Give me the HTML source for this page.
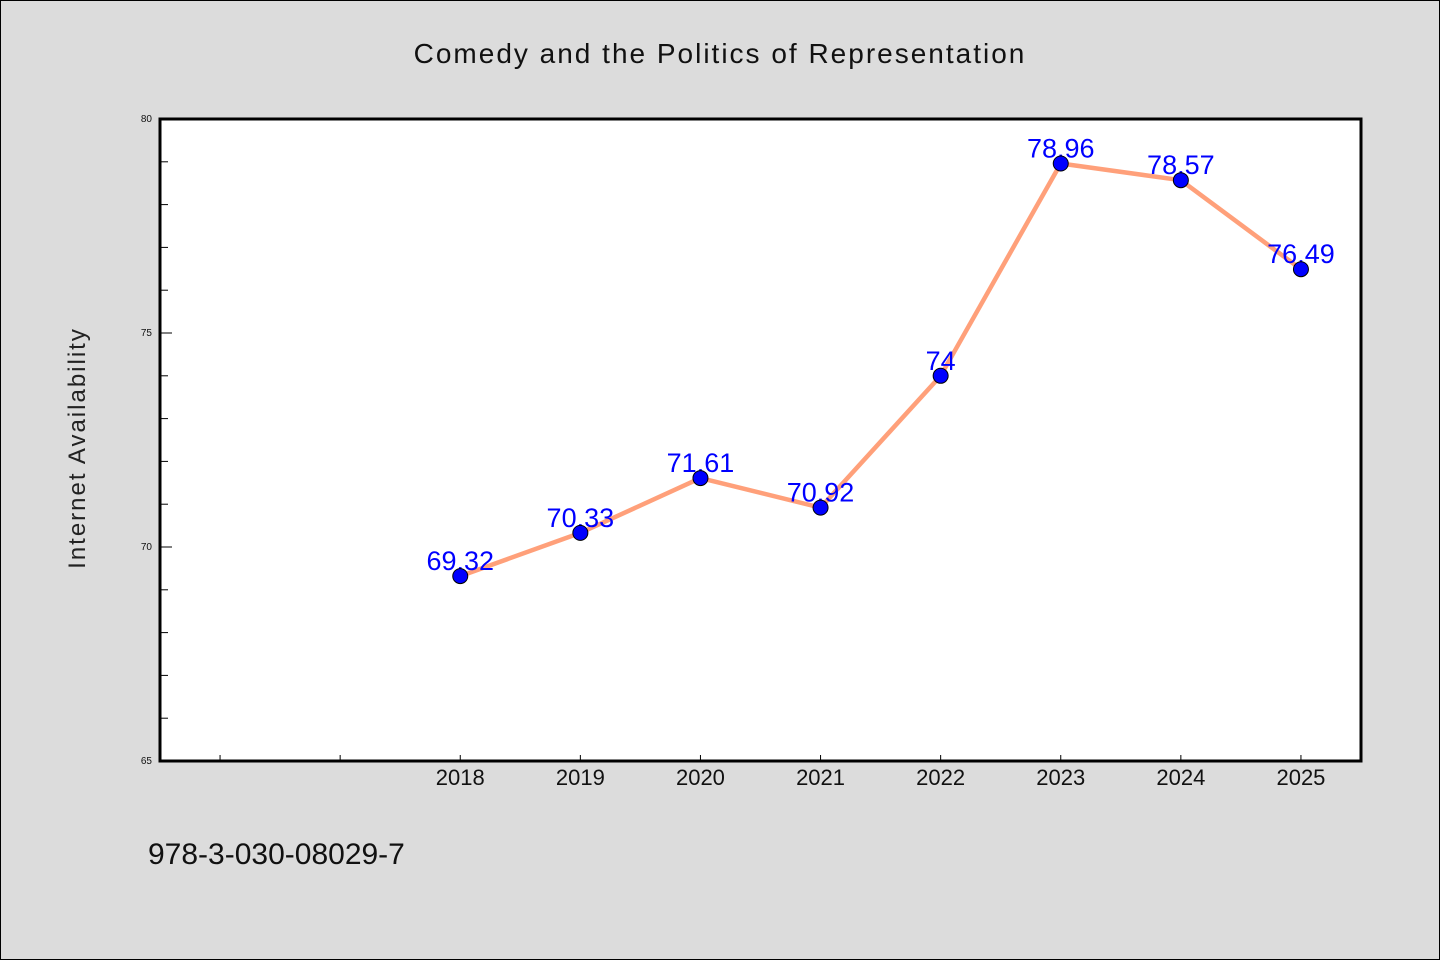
<!DOCTYPE html>
<html><head><meta charset="utf-8"><style>
body{margin:0;background:#dcdcdc;}
svg{display:block;font-family:"WenQuanYi Zen Hei","Liberation Sans",sans-serif;}
</style></head><body>
<svg id="chart" width="1440" height="960">
<rect x="0.5" y="0.5" width="1439" height="959" fill="#dcdcdc" stroke="#000"/>
<text x="720" y="63" text-anchor="middle" font-size="28" letter-spacing="2" fill="#111">Comedy and the Politics of Representation</text>
<rect x="160" y="119" width="1201" height="642" fill="#fff"/>
<g id="axes"></g>
<g id="marks"></g>
<rect x="160" y="119" width="1201" height="642" fill="none" stroke="#000" stroke-width="3"/>
<text transform="translate(85,448) rotate(-90)" text-anchor="middle" font-size="24" letter-spacing="2" fill="#222">Internet Availability</text>
<text x="148" y="864" font-size="30" fill="#111">978-3-030-08029-7</text>
</svg>
<script>
const years = [2018, 2019, 2020, 2021, 2022, 2023, 2024, 2025];
const values = [69.32, 70.33, 71.61, 70.92, 74, 78.96, 78.57, 76.49];
const valueLabels = ["69.32", "70.33", "71.61", "70.92", "74", "78.96", "78.57", "76.49"];
const yTicks = [65, 70, 75, 80];
const xTicks = [2016, 2017, 2018, 2019, 2020, 2021, 2022, 2023, 2024, 2025];
const ns = "http://www.w3.org/2000/svg";
const X0 = 160, X1 = 1361, Y0 = 761, Y1 = 119;
const xMin = 2015.5, xMax = 2025.5, yMin = 65, yMax = 80;
function sx(v){return X0 + (v - xMin) / (xMax - xMin) * (X1 - X0);}
function sy(v){return Y0 - (v - yMin) / (yMax - yMin) * (Y0 - Y1);}
function mk(tag, attrs, parent){const e=document.createElementNS(ns,tag);for(const k in attrs)e.setAttribute(k,attrs[k]);parent.appendChild(e);return e;}
const axes = document.getElementById('axes'), marks = document.getElementById('marks');
for (let v = yMin; v <= yMax; v++) {
  const major = yTicks.includes(v);
  const t = mk('line', {x1: X0, x2: X0 + (major ? 12 : 8), y1: sy(v), y2: sy(v), stroke: '#000', 'stroke-width': 1}, axes);
  
  
}
yTicks.forEach(v => {
  const t = mk('text', {x: 152, y: sy(v) + 3, 'text-anchor': 'end', 'font-size': 10, fill: '#111'}, axes);
  t.textContent = v;
  
  
});
xTicks.forEach(v => {
  const t = mk('line', {x1: sx(v), x2: sx(v), y1: Y0, y2: Y0 - 6, stroke: '#000', 'stroke-width': 1}, axes);
  
  
});
years.forEach(v => {
  const t = mk('text', {x: sx(v), y: 785, 'text-anchor': 'middle', 'font-size': 22, fill: '#111'}, axes);
  t.textContent = v;
  
  
});
const pts = years.map((y, i) => sx(y) + ',' + sy(values[i])).join(' ');
const line = mk('polyline', {points: pts, fill: 'none', stroke: '#ffa07a', 'stroke-width': 4.5, 'stroke-linejoin': 'round'}, marks);


years.forEach((y, i) => {
  const t = mk('text', {x: sx(y), y: sy(values[i]) - 6, 'text-anchor': 'middle', 'font-size': 27, fill: '#0000ff'}, marks);
  t.textContent = valueLabels[i];
  
  
});
years.forEach((y, i) => {
  const c = mk('circle', {cx: sx(y), cy: sy(values[i]), r: 7.5, fill: '#0000ff', stroke: '#000', 'stroke-width': 1}, marks);
  
  
});
</script>
</body></html>
